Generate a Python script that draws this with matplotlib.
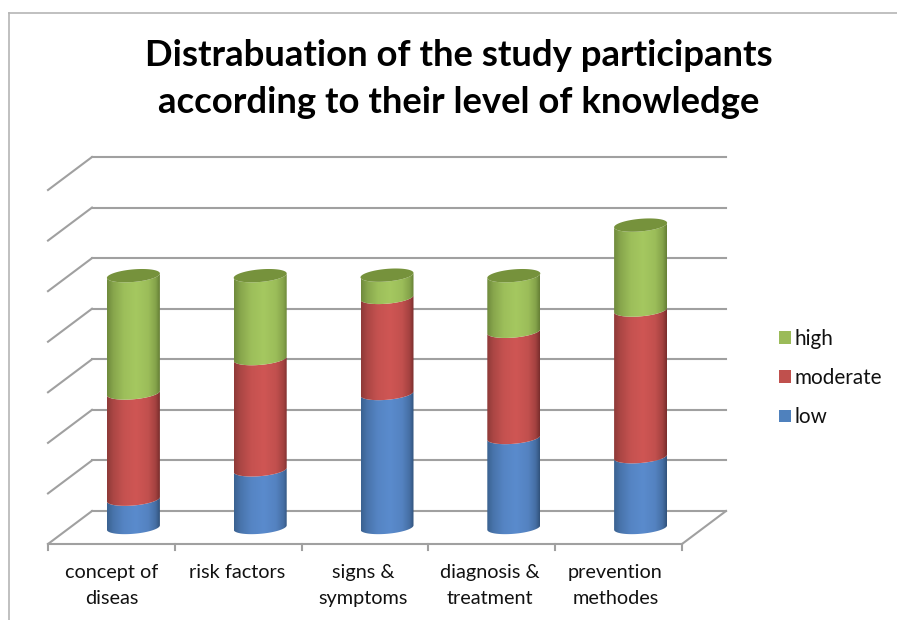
#!/usr/bin/env python3
"""Stacked 3D-look cylinder chart: knowledge level of study participants."""
import numpy as np
import matplotlib
matplotlib.use("Agg")
import matplotlib.pyplot as plt
from matplotlib.lines import Line2D
from matplotlib.patches import Patch, Polygon

categories = ["concept of\ndiseas", "risk factors", "signs &\nsymptoms",
              "diagnosis &\ntreatment", "prevention\nmethodes"]
low = [5.6, 11.4, 26.5, 17.8, 14.0]
moderate = [21.0, 22.0, 19.0, 21.0, 29.0]
high = [23.2, 16.4, 4.4, 11.0, 16.8]
grid_values = [0, 10, 20, 30, 40, 50, 60, 70]
title = "Distrabuation of the study participants\naccording to their level of knowledge"

W, H = 897, 620
PX_X = 126.8     # pixels per category
PX_Y = 5.057     # pixels per value unit
X0, Y0 = 48, 544  # front-left corner of the floor, pixels
DX = 44 / PX_X   # depth of the box
DY = 33 / PX_Y
HALF = 26.5 / PX_X
B = 6.3 / PX_Y     # ellipse half height
TILT = 2.2 / PX_Y  # right end of the ellipse sits higher
LABEL_STEP = 126.0 / PX_X  # tick labels sit a bit tighter than the ticks
GRID = "#a0a0a0"

COLS = {"low": ("#3a6190", "#5a8bcd", "#31527b"),
        "moderate": ("#8e3a38", "#cf5654", "#782d2c"),
        "high": ("#6f8a3c", "#a5c860", "#657f35")}
TOPS = "#76923c"

fig = plt.figure(figsize=(W / 100, H / 100), dpi=100)
ax = fig.add_axes([0, 0, 1, 1])
ax.axis("off")
xlim = (-0.5 - X0 / PX_X, -0.5 + (W - X0) / PX_X)
ylim = ((Y0 - H) / PX_Y, Y0 / PX_Y)


def shade(name):
    # horizontal gradient, dark edges and a light band just right of centre
    dl, mid, dr = [np.array(matplotlib.colors.to_rgb(c)) for c in COLS[name]]
    u = np.linspace(0, 1, 200)
    lf = np.interp(u, [0, 0.12, 0.32, 0.55], [0, 0.45, 0.85, 1])
    rf = np.interp(u, [0.55, 0.78, 0.92, 1], [1, 0.85, 0.5, 0])
    f = np.where(u < 0.55, lf, rf)
    base = np.where(u[:, None] < 0.55, dl, dr)
    return (base + (mid - base) * f[:, None])[None, :, :]


def arc(cx, v, t):
    return np.column_stack([cx + HALF * np.cos(t), v + B * np.sin(t) + TILT * np.cos(t)])


# walls and floor
for v in grid_values:
    ax.plot([-0.5, -0.5 + DX], [v, v + DY], color=GRID, lw=1.5, zorder=1)
    ax.plot([-0.5 + DX, 4.5 + DX], [v + DY, v + DY], color=GRID, lw=1.5, zorder=1)
ax.plot([-0.5, 4.5], [0, 0], color=GRID, lw=1.5, zorder=1)
ax.plot([4.5, 4.5 + DX], [0, DY], color=GRID, lw=1.5, zorder=1)
for i in range(6):
    ax.plot([i - 0.5, i - 0.5], [0, -6 / PX_Y], color=GRID, lw=1.5, zorder=1)

# cylinders
front = np.linspace(np.pi, 2 * np.pi, 60)
whole = np.linspace(0, 2 * np.pi, 120)
for i in range(len(categories)):
    cx = i + DX / 2
    bottom = DY / 2
    for name, vals in (("low", low), ("moderate", moderate), ("high", high)):
        top = bottom + vals[i]
        poly = np.vstack([arc(cx, bottom, front), arc(cx, top, front)[::-1]])
        im = ax.imshow(shade(name), extent=(cx - HALF, cx + HALF, bottom - 3, top + 3),
                       aspect="auto", interpolation="bilinear", zorder=3)
        im.set_clip_path(Polygon(poly, closed=True, transform=ax.transData))
        bottom = top
    ax.add_patch(Polygon(arc(cx, bottom, whole), closed=True, fc=TOPS, ec="none", zorder=4))
    ax.text(i * LABEL_STEP, -20 / PX_Y, categories[i], ha="center", va="top", fontsize=14.3,
            family="Lato", color="#111111", linespacing=1.62)

ax.set_xlim(xlim)
ax.set_ylim(ylim)

handles = [Patch(fc="#9bbb59"), Patch(fc="#c0504d"), Patch(fc="#4f81bd")]
ax.legend(handles, ["high", "moderate", "low"], loc="center left",
          bbox_to_anchor=(779 / W, 1 - 378 / H), frameon=False,
          prop={"family": "Lato", "size": 14.9}, handlelength=0.58, handleheight=0.58,
          handletextpad=0.18, labelspacing=0.93, labelcolor="#111111",
          borderpad=0, borderaxespad=0)

# chart frame
fig.add_artist(Line2D([9 / W, 9 / W], [0, 1 - 13 / H], color="#b5b5b5", lw=1.2))
fig.add_artist(Line2D([9 / W, 1], [1 - 13 / H, 1 - 13 / H], color="#b5b5b5", lw=1.2))

fig.text(459 / W, 1 - 79 / H, title, ha="center", va="center", fontsize=26.3,
         family="Lato", fontweight="bold", color="black", linespacing=1.5)

fig.savefig("out.png", dpi=100)
plt.close()
